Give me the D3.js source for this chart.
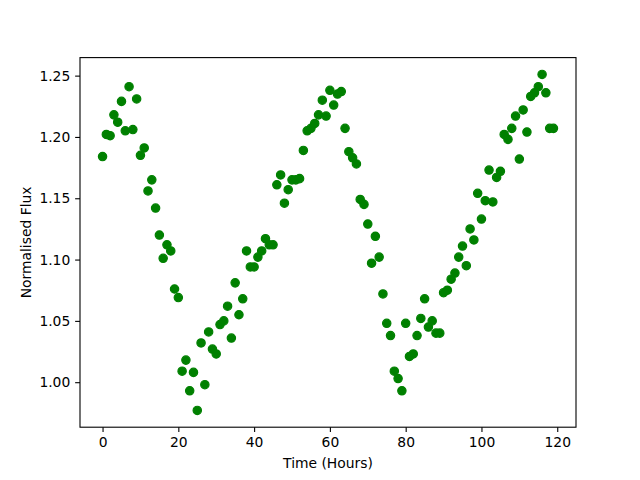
<!DOCTYPE html>
<html>
<head>
<meta charset="utf-8">
<script src="https://cdn.jsdelivr.net/npm/d3@7"></script>
<style>
  body { margin: 0; background: #fff; }
  svg text { font-family: "DejaVu Sans", sans-serif; fill: #000; }
</style>
</head>
<body>
<div id="chart"></div>
<script>
// hours since start of observation
const hours = d3.range(0, 120)

// normalised flux, one per hour
const flux = [
  1.184, 1.202, 1.201, 1.218, 1.212, 1.229, 1.205, 1.241, 1.206, 1.231,
  1.185, 1.191, 1.156, 1.165, 1.142, 1.120, 1.101, 1.112, 1.107, 1.076,
  1.069, 1.009, 1.018, 0.993, 1.008, 0.977, 1.032, 0.998, 1.041, 1.027,
  1.023, 1.047, 1.050, 1.062, 1.036, 1.081, 1.055, 1.068, 1.107, 1.094,
  1.094, 1.102, 1.107, 1.117, 1.112, 1.112, 1.161, 1.169, 1.146, 1.157,
  1.165, 1.165, 1.166, 1.189, 1.205, 1.207, 1.211, 1.218, 1.230, 1.217,
  1.238, 1.226, 1.235, 1.237, 1.207, 1.188, 1.183, 1.178, 1.149, 1.145,
  1.129, 1.097, 1.119, 1.102, 1.072, 1.048, 1.038, 1.009, 1.003, 0.993,
  1.048, 1.021, 1.023, 1.038, 1.052, 1.068, 1.045, 1.050, 1.040, 1.040,
  1.073, 1.075, 1.084, 1.089, 1.102, 1.111, 1.095, 1.125, 1.116, 1.154,
  1.133, 1.148, 1.173, 1.147, 1.167, 1.172, 1.202, 1.198, 1.207, 1.217,
  1.182, 1.222, 1.204, 1.233, 1.236, 1.241, 1.251, 1.236, 1.207, 1.207
]

const xTicks = [0, 20, 40, 60, 80, 100, 120]
const yTicks = [1.00, 1.05, 1.10, 1.15, 1.20, 1.25]

const width = 640, height = 480
const margin = {top: 57.6, right: 64, bottom: 52.8, left: 80}
const fs = 13.89

let svg = d3.select('#chart').append('svg')
  .attr('width', width)
  .attr('height', height)

// matplotlib style autoscale: 5% padding each side
function padded(ext) {
  let pad = (ext[1] - ext[0]) * 0.05
  return [ext[0] - pad, ext[1] + pad]
}

let x = d3.scaleLinear()
  .domain(padded(d3.extent(hours)))
  .range([margin.left, width - margin.right])

let y = d3.scaleLinear()
  .domain(padded(d3.extent(flux)))
  .range([height - margin.bottom, margin.top])

let points = hours.map((h, i) => ({h: h, v: flux[i]}))

svg.append('g')
  .selectAll('circle')
  .data(points)
  .enter()
  .append('circle')
  .attr('cx', d => x(d.h))
  .attr('cy', d => y(d.v))
  .attr('r', 4.17)
  .attr('fill', '#008000')
  .attr('stroke', '#008000')
  .attr('stroke-width', 1.2)

let xAxis = svg.append('g')
  .attr('transform', `translate(0,${height - margin.bottom})`)
  .call(d3.axisBottom(x).tickValues(xTicks).tickSize(4.86).tickPadding(4.86).tickFormat(d3.format('d')))

let yAxis = svg.append('g')
  .attr('transform', `translate(${margin.left},0)`)
  .call(d3.axisLeft(y).tickValues(yTicks).tickSize(4.86).tickPadding(4.86).tickFormat(d3.format('.2f')))

for (let ax of [xAxis, yAxis]) {
  ax.select('.domain').remove()
  ax.selectAll('.tick line').attr('stroke', '#000').attr('stroke-width', 1.1)
  ax.selectAll('.tick text').attr('font-size', fs).attr('font-family', '"DejaVu Sans", sans-serif')
}

// frame
svg.append('rect')
  .attr('x', margin.left)
  .attr('y', margin.top)
  .attr('width', width - margin.left - margin.right)
  .attr('height', height - margin.top - margin.bottom)
  .attr('fill', 'none')
  .attr('stroke', '#000')
  .attr('stroke-width', 1.1)

svg.append('text')
  .attr('x', (margin.left + width - margin.right) / 2)
  .attr('y', 468)
  .attr('text-anchor', 'middle')
  .attr('font-size', fs)
  .text('Time (Hours)')

svg.append('text')
  .attr('transform', `translate(31,${(margin.top + height - margin.bottom) / 2}) rotate(-90)`)
  .attr('text-anchor', 'middle')
  .attr('font-size', fs)
  .text('Normalised Flux')
</script>
</body>
</html>
